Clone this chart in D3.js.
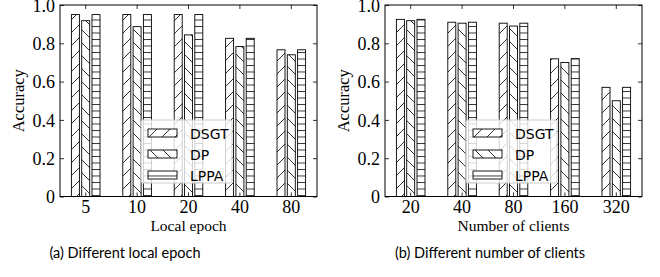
<!DOCTYPE html>
<html>
<head>
<meta charset="utf-8">
<script src="https://cdn.jsdelivr.net/npm/d3@7"></script>
<style>
  body { margin: 0; background: #fff; }
  svg { display: block; }
</style>
</head>
<body>
<svg id="chart" width="660" height="277"></svg>
<script>
// data
var seriesNames = ['DSGT', 'DP', 'LPPA'];
var epochLabels = ['5', '10', '20', '40', '80'];
var epochDSGT = [0.95, 0.95, 0.95, 0.826, 0.766];
var epochDP   = [0.918, 0.887, 0.844, 0.783, 0.740];
var epochLPPA = [0.95, 0.95, 0.95, 0.826, 0.766];
var clientLabels = ['20', '40', '80', '160', '320'];
var clientDSGT = [0.925, 0.910, 0.905, 0.719, 0.570];
var clientDP   = [0.918, 0.905, 0.890, 0.700, 0.500];
var clientLPPA = [0.925, 0.910, 0.905, 0.720, 0.570];
var yTicks = [0, 0.2, 0.4, 0.6, 0.8, 1.0];

var svg = d3.select('#chart');
var defs = svg.append('defs');

// hatch patterns
function hatch(id, size, path) {
    var p = defs.append('pattern')
        .attr('id', id)
        .attr('patternUnits', 'userSpaceOnUse')
        .attr('width', size[0]).attr('height', size[1]);
    p.append('rect').attr('width', size[0]).attr('height', size[1]).attr('fill', '#fff');
    p.append('path').attr('d', path).attr('stroke', '#000').attr('stroke-width', 0.8).attr('fill', 'none');
}
hatch('h-fwd', [13, 13], 'M-1,1 L1,-1 M0,13 L13,0 M12,14 L14,12');
hatch('h-back', [13, 13], 'M-1,12 L1,14 M0,0 L13,13 M12,-1 L14,1');
hatch('h-horiz', [13, 6.5], 'M0,0.5 L13,0.5');
var fills = ['url(#h-fwd)', 'url(#h-back)', 'url(#h-horiz)'];

var plotTop = 5, plotBottom = 196.5;

function panel(x0, x1, labels, series, xlabel, caption, captionX) {
    var g = svg.append('g');
    var x = d3.scaleBand().domain(labels).range([x0, x1]);
    var y = d3.scaleLinear().domain([0, 1]).range([plotBottom, plotTop]);
    var barW = 8, step = 10.3;

    series.forEach(function (vals, s) {
        g.selectAll('rect.s' + s)
            .data(vals)
            .enter()
            .append('rect')
            .attr('class', 's' + s)
            .attr('x', function (d, i) {
                return x(labels[i]) + x.bandwidth() / 2 + (s - 1) * step - barW / 2;
            })
            .attr('y', function (d) { return y(d); })
            .attr('width', barW)
            .attr('height', function (d) { return plotBottom - y(d); })
            .attr('fill', fills[s])
            .attr('stroke', '#000')
            .attr('stroke-width', 0.9);
    });

    // frame
    g.append('rect')
        .attr('x', x0).attr('y', plotTop)
        .attr('width', x1 - x0).attr('height', plotBottom - plotTop)
        .attr('fill', 'none').attr('stroke', '#000').attr('stroke-width', 1);

    // axes with inward ticks
    var left = g.append('g').attr('transform', 'translate(' + x0 + ',0)')
        .call(d3.axisLeft(y).tickValues(yTicks).tickSizeInner(-4).tickSizeOuter(0).tickPadding(5)
            .tickFormat(function (d) { return d === 0 ? '0' : d3.format('.1f')(d); }));
    g.append('g').attr('transform', 'translate(' + x1 + ',0)')
        .call(d3.axisRight(y).tickValues(yTicks).tickSizeInner(-4).tickSizeOuter(0).tickFormat(''));
    var bot = g.append('g').attr('transform', 'translate(0,' + plotBottom + ')')
        .call(d3.axisBottom(x).tickSizeInner(-4).tickSizeOuter(0));
    g.append('g').attr('transform', 'translate(0,' + plotTop + ')')
        .call(d3.axisTop(x).tickSizeInner(-4).tickSizeOuter(0).tickFormat(''));
    g.selectAll('.domain').remove();
    g.selectAll('.tick line').attr('stroke', '#000').attr('stroke-width', 0.8);
    g.selectAll('.tick text')
        .attr('font-family', '"Liberation Serif", "Times New Roman", serif')
        .attr('font-size', 18).attr('fill', '#000');
    left.selectAll('.tick text').attr('dy', '0.34em');
    bot.selectAll('.tick text').attr('y', 212.5 - plotBottom).attr('dy', 0);

    // axis labels
    g.append('text')
        .attr('transform', 'translate(' + (x0 - 36) + ',' + ((plotTop + plotBottom) / 2) + ') rotate(-90)')
        .attr('text-anchor', 'middle')
        .attr('font-family', '"Liberation Serif", serif').attr('font-size', 16.5)
        .text('Accuracy');
    g.append('text')
        .attr('x', (x0 + x1) / 2).attr('y', 231)
        .attr('text-anchor', 'middle')
        .attr('font-family', '"Liberation Serif", serif').attr('font-size', 15.5)
        .text(xlabel);
    g.append('text')
        .attr('x', captionX).attr('y', 258)
        .attr('text-anchor', 'middle')
        .attr('font-family', 'Lato, "Open Sans", sans-serif').attr('font-size', 14.5)
        .text(caption);

    // legend
    var lx = x0 + 81, ly = 120;
    var leg = g.append('g');
    leg.append('rect')
        .attr('x', lx).attr('y', ly).attr('width', 91).attr('height', 63)
        .attr('rx', 2)
        .attr('fill', '#fff').attr('fill-opacity', 0.8)
        .attr('stroke', '#ccc').attr('stroke-width', 1);
    seriesNames.forEach(function (name, s) {
        var ey = ly + 9 + s * 21;
        leg.append('rect')
            .attr('x', lx + 7).attr('y', ey)
            .attr('width', 29).attr('height', 8)
            .attr('fill', fills[s]).attr('stroke', '#000').attr('stroke-width', 0.9);
        leg.append('text')
            .attr('x', lx + 49).attr('y', ey + 9.5)
            .attr('font-family', '"DejaVu Sans", sans-serif').attr('font-size', 14)
            .text(name);
    });
}

panel(60, 317, epochLabels, [epochDSGT, epochDP, epochLPPA],
    'Local epoch', '(a) Different local epoch', 125);
panel(385, 642, clientLabels, [clientDSGT, clientDP, clientLPPA],
    'Number of clients', '(b) Different number of clients', 490);
</script>
</body>
</html>
